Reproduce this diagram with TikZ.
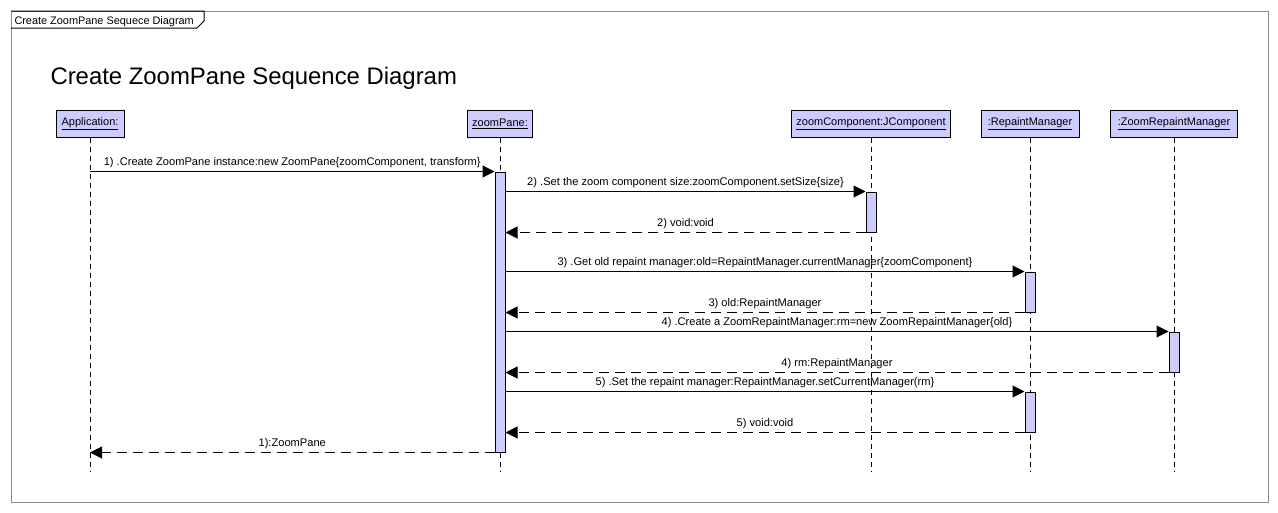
\documentclass[tikz,border=0pt]{standalone}
\usepackage{fontspec}
\setmainfont{Liberation Sans}
\usetikzlibrary{arrows.meta}
\definecolor{headfill}{HTML}{CCCCFF}
\definecolor{framegray}{HTML}{8C8C8C}
\begin{document}
\begin{tikzpicture}[x=1pt,y=-1pt,line width=1pt,
  head/.style={draw=black, fill=headfill, minimum height=27pt, inner sep=0pt,
    font=\fontsize{11}{12}\selectfont},
  life/.style={draw=black, dash pattern=on 5pt off 4pt},
  actbar/.style={draw=black, fill=headfill, minimum width=10pt, inner sep=0pt},
  call/.style={-{Triangle[length=12pt,width=12pt]}},
  reply/.style={-{Triangle[length=12pt,width=12pt]}, dash pattern=on 10pt off 6pt},
  msgtext/.style={font=\fontsize{11.1}{12}\selectfont, inner sep=0pt, anchor=south,
    midway, yshift=3pt}
]
\useasboundingbox (0,0) rectangle (1278,512);

% diagram frame and its name tab
\draw[framegray] (11,11) rectangle (1268,502);
\draw[black] (11,11) -- (204,11) -- (204,21) -- (197,28) -- (11,28);
\node[anchor=base west, inner sep=0pt, font=\fontsize{10.9}{12}\selectfont] (tab)
  at (14,24.5) {Create ZoomPane Sequece Diagram};

% title
\node[anchor=base west, inner sep=0pt, font=\fontsize{23.9}{26}\selectfont] (title)
  at (50,84) {Create ZoomPane Sequence Diagram};

% lifeline heads
\node[head, minimum width=68pt] (app) at (90,123.5) {\underline{Application:}};
\node[head, minimum width=65pt] (zp)  at (500,123.5) {\underline{zoomPane:}};
\node[head, minimum width=159pt] (zc) at (871,123.5) {\underline{zoomComponent:JComponent}};
\node[head, minimum width=98pt] (rm)  at (1030,123.5) {\underline{:RepaintManager}};
\node[head, minimum width=127pt] (zrm) at (1174,123.5) {\underline{:ZoomRepaintManager}};

% lifeline ends
\coordinate (app-end) at (90,471);
\coordinate (zp-end)  at (500,471);
\coordinate (zc-end)  at (871,471);
\coordinate (rm-end)  at (1030,471);
\coordinate (zrm-end) at (1174,471);

\draw[life] (app.south) -- (app-end);
\draw[life] (zp.south)  -- (zp-end);
\draw[life] (zc.south)  -- (zc-end);
\draw[life] (rm.south)  -- (rm-end);
\draw[life] (zrm.south) -- (zrm-end);

% activation bars
\node[actbar, minimum height=280pt] (a-zp)  at (500,312) {};
\node[actbar, minimum height=40pt]  (a-zc)  at (871,212) {};
\node[actbar, minimum height=40pt]  (a-rm1) at (1030,292) {};
\node[actbar, minimum height=40pt]  (a-zrm) at (1174,352) {};
\node[actbar, minimum height=40pt]  (a-rm2) at (1030,412) {};

% messages
\draw[call] (a-zp.north west -| app) -- node[msgtext]
  {1) .Create ZoomPane instance:new ZoomPane\{zoomComponent, transform\}} (a-zp.north west);
\draw[call] (a-zc.north west -| a-zp.east) -- node[msgtext]
  {2) .Set the zoom component size:zoomComponent.setSize\{size\}} (a-zc.north west);
\draw[reply] (a-zc.south west) -- node[msgtext] {2) void:void} (a-zc.south west -| a-zp.east);
\draw[call] (a-rm1.north west -| a-zp.east) -- node[msgtext]
  {3) .Get old repaint manager:old=RepaintManager.currentManager\{zoomComponent\}} (a-rm1.north west);
\draw[reply] (a-rm1.south west) -- node[msgtext] {3) old:RepaintManager} (a-rm1.south west -| a-zp.east);
\draw[call] (a-zrm.north west -| a-zp.east) -- node[msgtext]
  {4) .Create a ZoomRepaintManager:rm=new ZoomRepaintManager\{old\}} (a-zrm.north west);
\draw[reply] (a-zrm.south west) -- node[msgtext] {4) rm:RepaintManager} (a-zrm.south west -| a-zp.east);
\draw[call] (a-rm2.north west -| a-zp.east) -- node[msgtext]
  {5) .Set the repaint manager:RepaintManager.setCurrentManager(rm\}} (a-rm2.north west);
\draw[reply] (a-rm2.south west) -- node[msgtext] {5) void:void} (a-rm2.south west -| a-zp.east);
\draw[reply] (a-zp.south west) -- node[msgtext] {1):ZoomPane} (a-zp.south west -| app);
\end{tikzpicture}
\end{document}
